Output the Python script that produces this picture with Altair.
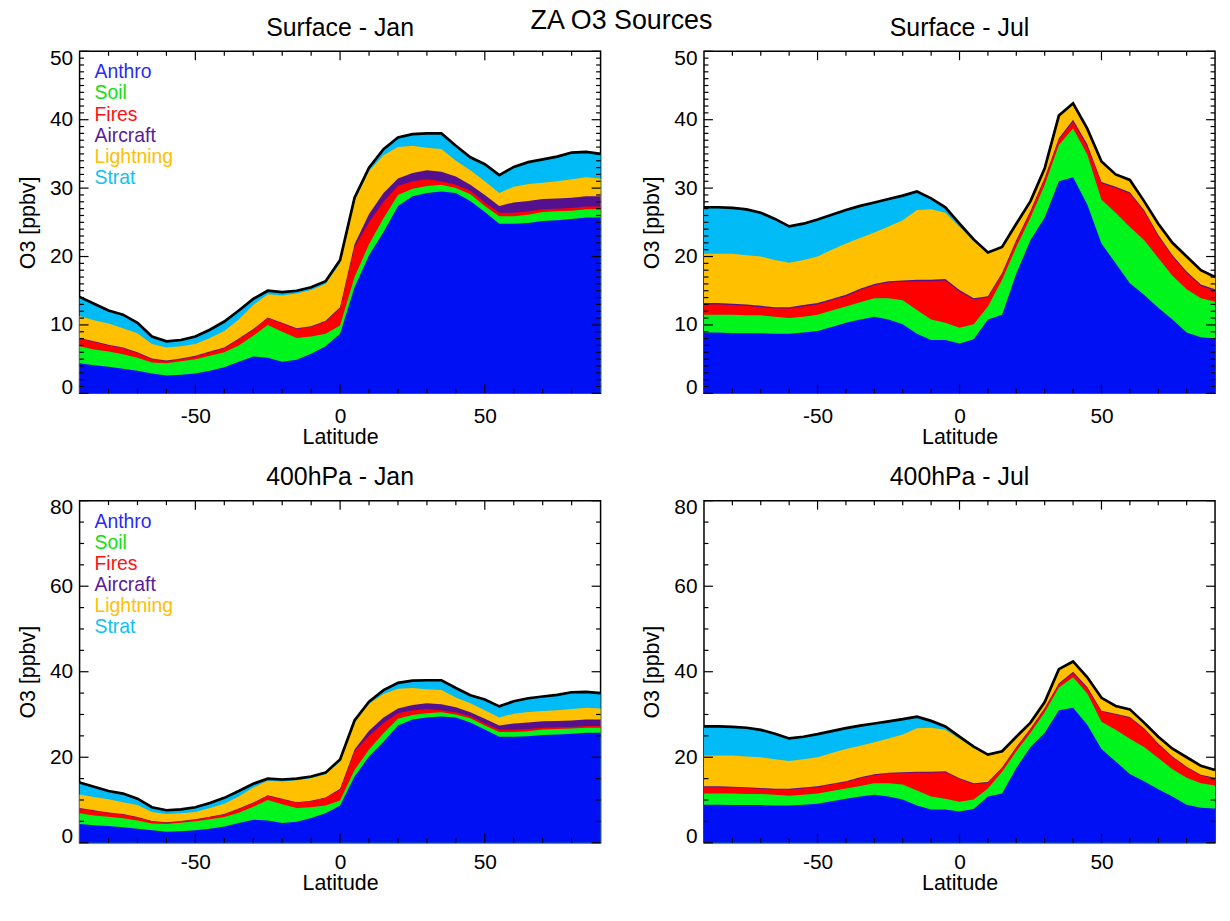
import altair as alt
import pandas as pd

FONT = "Liberation Sans"

lats = list(range(-90, 91, 5))
sources = ["Anthro", "Soil", "Fires", "Aircraft", "Lightning", "Strat"]
fill_colors = ["#0010f5", "#00f51d", "#ff0000", "#55108f", "#ffc000", "#00bbf5"]
text_colors = ["#2a2af5", "#10e010", "#ff1010", "#5a1a9a", "#ffc000", "#10bff5"]

# cumulative top of each source layer (ppbv), January
jan_anthro = [4.4, 4.1, 3.9, 3.6, 3.3, 2.9, 2.6, 2.7, 2.9, 3.3, 3.8, 4.6, 5.4, 5.2, 4.6, 4.9, 5.8, 6.9, 8.7,
              15.5, 20.2, 23.6, 27.4, 28.8, 29.3, 29.5, 29.3, 28.1, 26.5, 24.8, 24.8, 24.9, 25.2, 25.3, 25.5, 25.7, 25.7]
jan_soil = [6.9, 6.4, 6.1, 5.7, 5.2, 4.5, 4.4, 4.7, 5.0, 5.5, 6.0, 7.0, 8.4, 10.0, 9.0, 8.1, 8.3, 8.7, 9.9,
            17.0, 21.8, 25.6, 29.0, 29.9, 30.3, 30.5, 30.0, 29.1, 27.4, 25.9, 25.9, 26.1, 26.5, 26.6, 26.7, 26.9, 26.9]
jan_fires = [8.0, 7.5, 7.0, 6.6, 5.9, 5.0, 4.7, 5.0, 5.4, 6.0, 6.6, 7.9, 9.3, 11.0, 10.2, 9.4, 9.7, 10.5, 12.4,
             21.4, 25.0, 28.0, 30.3, 31.0, 31.3, 31.0, 30.5, 29.6, 27.9, 26.4, 26.4, 26.6, 26.9, 27.0, 27.1, 27.3, 27.3]
jan_aircraft = [8.1, 7.6, 7.1, 6.7, 6.0, 5.1, 4.8, 5.1, 5.5, 6.1, 6.7, 8.0, 9.4, 11.1, 10.3, 9.5, 9.8, 10.6, 12.6,
                21.8, 26.2, 29.3, 31.4, 32.2, 32.6, 32.4, 31.7, 30.5, 29.0, 27.4, 27.9, 28.1, 28.4, 28.5, 28.6, 28.8, 28.8]
jan_lightning = [11.3, 10.7, 10.2, 9.5, 8.8, 7.2, 6.7, 6.9, 7.2, 8.1, 9.1, 10.8, 12.9, 14.5, 14.3, 14.6, 15.1, 16.0, 19.0,
                 28.2, 32.5, 34.8, 36.0, 36.2, 35.9, 35.7, 34.0, 32.6, 31.0, 29.3, 30.2, 30.6, 30.8, 31.0, 31.3, 31.6, 31.4]
jan_strat = [14.1, 13.1, 12.1, 11.5, 10.3, 8.3, 7.6, 7.8, 8.3, 9.3, 10.5, 12.1, 13.8, 15.0, 14.8, 15.0, 15.5, 16.4, 19.5,
             28.6, 33.0, 35.7, 37.4, 37.9, 38.0, 38.0, 36.2, 34.5, 33.5, 31.9, 33.1, 33.8, 34.2, 34.6, 35.2, 35.3, 35.0]

# cumulative top of each source layer (ppbv), July
jul_anthro = [8.9, 8.9, 8.8, 8.8, 8.8, 8.7, 8.7, 8.9, 9.1, 9.7, 10.3, 10.8, 11.2, 10.8, 10.1, 8.7, 7.8, 7.8, 7.3,
              7.9, 10.8, 11.5, 17.5, 22.4, 25.7, 31.0, 31.6, 27.6, 21.9, 19.0, 16.1, 14.4, 12.5, 10.8, 8.9, 8.2, 8.0]
jul_soil = [11.5, 11.5, 11.5, 11.4, 11.4, 11.2, 11.0, 11.2, 11.5, 12.1, 12.7, 13.3, 13.9, 13.9, 13.6, 12.2, 10.8, 10.3, 9.6,
            10.1, 12.7, 16.6, 21.4, 25.7, 30.5, 36.3, 38.7, 34.9, 28.3, 26.4, 24.3, 22.4, 19.8, 17.2, 15.2, 13.9, 13.4]
jul_fires = [13.0, 13.0, 12.9, 12.8, 12.6, 12.4, 12.4, 12.7, 13.0, 13.6, 14.2, 15.1, 15.8, 16.2, 16.3, 16.4, 16.4, 16.5, 14.9,
             13.7, 14.0, 17.4, 22.2, 26.5, 31.3, 37.1, 39.7, 36.1, 30.7, 30.0, 29.2, 26.6, 23.0, 20.0, 17.6, 15.7, 15.0]
jul_aircraft = [13.2, 13.2, 13.1, 13.0, 12.8, 12.6, 12.6, 12.9, 13.2, 13.8, 14.4, 15.3, 16.0, 16.4, 16.5, 16.6, 16.6, 16.7, 15.1,
                13.9, 14.2, 17.6, 22.4, 26.7, 31.5, 37.3, 40.0, 36.4, 30.9, 30.2, 29.4, 26.8, 23.2, 20.2, 17.8, 15.9, 15.2]
jul_lightning = [20.4, 20.4, 20.4, 20.2, 20.0, 19.5, 19.1, 19.5, 20.0, 21.0, 21.9, 22.7, 23.5, 24.4, 25.3, 26.8, 26.9, 26.4, 24.3,
                 22.2, 20.4, 21.3, 24.7, 28.0, 32.8, 40.4, 42.2, 38.6, 33.8, 31.9, 31.1, 28.0, 24.7, 21.9, 19.9, 17.9, 16.9]
jul_strat = [27.2, 27.2, 27.1, 26.9, 26.4, 25.5, 24.4, 24.8, 25.4, 26.1, 26.8, 27.4, 27.9, 28.4, 28.9, 29.5, 28.5, 27.2, 24.8,
             22.5, 20.6, 21.4, 24.8, 28.1, 32.9, 40.6, 42.4, 38.7, 33.9, 32.0, 31.2, 28.1, 24.8, 22.0, 20.0, 18.0, 17.0]

main_title = "ZA O3 Sources"
panel_titles = ["Surface - Jan", "Surface - Jul", "400hPa - Jan", "400hPa - Jul"]

jan_df = pd.DataFrame({"lat": lats, "Anthro": jan_anthro, "Soil": jan_soil, "Fires": jan_fires,
                       "Aircraft": jan_aircraft, "Lightning": jan_lightning, "Strat": jan_strat})
jul_df = pd.DataFrame({"lat": lats, "Anthro": jul_anthro, "Soil": jul_soil, "Fires": jul_fires,
                       "Aircraft": jul_aircraft, "Lightning": jul_lightning, "Strat": jul_strat})

x_major = [-50, 0, 50]
x_minor = [-80, -70, -60, -40, -30, -20, -10, 10, 20, 30, 40, 60, 70, 80]

W_LEFT, W_RIGHT, H = 524, 514, 344


def text_layer(txt, x, y, size, color="black", align="center"):
    return alt.Chart(pd.DataFrame({"t": [txt]})).mark_text(
        align=align, baseline="middle", font=FONT, fontSize=size, color=color
    ).encode(text="t:N", x=alt.value(x), y=alt.value(y))


def panel(df, title, ymax, ymajor, yminor, width, height, legend, main=False, lpad=12, tpad=0):
    xscale = alt.Scale(domain=[-90, 90], nice=False, zero=False)
    yscale = alt.Scale(domain=[0, ymax], nice=False)
    xaxis = alt.Axis(values=x_major, title="Latitude", labelPadding=lpad, titlePadding=tpad,
                     labelExpr="'' + datum.value")
    yaxis = alt.Axis(values=list(range(0, ymax + 1, ymajor)), title="O3 [ppbv]",
                     labelPadding=7, titlePadding=10, labelFlush=True, labelFlushOffset=4)
    base = alt.Chart(df)
    layers = []
    for src, col in reversed(list(zip(sources, fill_colors))):
        layers.append(base.mark_area(color=col, opacity=1).encode(
            x=alt.X("lat:Q", scale=xscale, axis=xaxis),
            y=alt.Y(f"{src}:Q", scale=yscale, axis=yaxis)))
    layers.append(base.mark_line(color="black", strokeWidth=2.7).encode(
        x=alt.X("lat:Q", scale=xscale, axis=xaxis), y=alt.Y("Strat:Q", scale=yscale, axis=yaxis)))

    ymaj = list(range(0, ymax + 1, ymajor))
    ymin = [v for v in range(0, ymax + 1, yminor) if v % ymajor != 0]
    for vals, ln in [(ymaj, 9), (ymin, 4.5)]:
        d = alt.Chart(pd.DataFrame({"v": vals}))
        yv = alt.Y("v:Q", scale=yscale, axis=yaxis)
        layers.append(d.mark_rule(color="black", strokeWidth=1.2).encode(y=yv, x=alt.value(0), x2=alt.value(ln)))
        layers.append(d.mark_rule(color="black", strokeWidth=1.2).encode(y=yv, x=alt.value(width), x2=alt.value(width - ln)))
    for vals, ln in [(x_major, 9), (x_minor, 4.5)]:
        d = alt.Chart(pd.DataFrame({"v": vals}))
        xv = alt.X("v:Q", scale=xscale, axis=xaxis)
        layers.append(d.mark_rule(color="black", strokeWidth=1.2).encode(x=xv, y=alt.value(0), y2=alt.value(ln)))
        layers.append(d.mark_rule(color="black", strokeWidth=1.2).encode(x=xv, y=alt.value(height), y2=alt.value(height - ln)))

    if legend:
        for i, (src, tc) in enumerate(zip(sources, text_colors)):
            layers.append(text_layer(src, 15, 21 + i * 21.3, 19.5, tc, "left"))
    # panel title above the frame
    layers.append(text_layer(title, width / 2, -23.5, 25))
    if main:
        layers.append(text_layer(main_title, width + 21, -30, 27))

    return alt.layer(*layers).properties(width=width, height=height)


chart = alt.concat(
    panel(jan_df, panel_titles[0], 50, 10, 1, W_LEFT, H, True, main=True),
    panel(jul_df, panel_titles[1], 50, 10, 1, W_RIGHT, H, False),
    panel(jan_df, panel_titles[2], 80, 20, 5, W_LEFT, H, True, lpad=9, tpad=0),
    panel(jul_df, panel_titles[3], 80, 20, 5, W_RIGHT, H, False, lpad=9, tpad=0),
    columns=2, spacing={"row": 108, "column": 104}, bounds="flush",
).properties(
    padding={"left": 8, "top": -4, "right": 0, "bottom": -4},
).configure_view(
    stroke="black", strokeWidth=1.5
).configure_axis(
    labelFont=FONT, labelFontSize=21, labelColor="black",
    titleFont=FONT, titleFontSize=21.5, titleFontWeight="normal", titleColor="black",
    domain=False, ticks=False, tickSize=0, grid=False,
)

chart.save("out.html", embed_options={"renderer": "svg", "actions": False})
